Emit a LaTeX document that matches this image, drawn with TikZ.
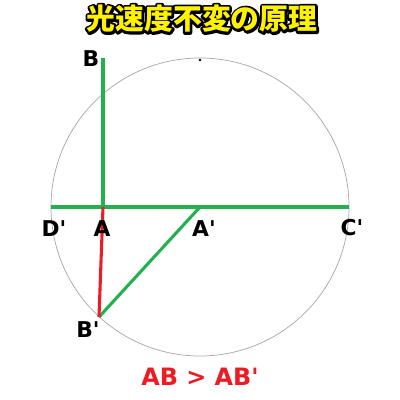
\documentclass[tikz,border=0pt]{standalone}
\usepackage{fontspec}
\setsansfont{DejaVu Sans}
\newfontfamily\jpfont{Noto Sans CJK JP}
\usetikzlibrary{positioning,calc}
\definecolor{lgreen}{RGB}{34,177,76}
\definecolor{lred}{RGB}{237,28,36}
\definecolor{tyellow}{RGB}{255,242,0}
\newcommand{\strokedtext}[1]{\special{pdf:literal direct 1 Tr 3.4 w 1 j 0 G}#1\special{pdf:literal direct 0 Tr}}
\newcommand{\pr}{\textquotesingle}
\begin{document}
\begin{tikzpicture}[x=0.025cm,y=-0.025cm,
    lbl/.style={font=\sffamily\bfseries\fontsize{15.5}{15.5}\selectfont, inner sep=0pt},
    ray/.style={lgreen, line width=2.2pt},
    titletxt/.style={font=\jpfont\bfseries\fontsize{20.5}{20.5}\selectfont, inner sep=0pt}]
    \useasboundingbox (0,0) rectangle (400,400);
    % points
    \coordinate (Ap) at (200,207);
    \coordinate (A) at (103,207);
    \coordinate (B) at (103,58);
    \coordinate (Bp) at (99,317);
    \coordinate (Dp) at (51,207);
    \coordinate (Cp) at (349,207);
    \coordinate (top) at (200,60);
    %
    \node[titletxt] (title_outline) at (202,19) {\strokedtext{光速度不変の原理}};
    \node[titletxt, text=tyellow] (title) at (202,19) {光速度不変の原理};
    %
    \draw[gray!70, line width=0.5pt] (Ap) circle[radius=149];
    \fill (top) circle[radius=1.3];
    %
    \draw[ray] (Dp) -- (Cp);
    \draw[ray] (A) -- (B);
    \draw[ray] (Ap) -- (Bp);
    \draw[lred, line width=2.2pt] (A) -- (Bp);
    %
    \node[lbl] (lb) at (91,59) {B};
    \node[lbl] (ld) at (54,229) {D\pr};
    \node[lbl] (la) at (102,229) {A};
    \node[lbl] (lap) at (204,229) {A\pr};
    \node[lbl] (lcp) at (352,228) {C\pr};
    \node[lbl] (lbp) at (88,330) {B\pr};
    \node[lbl, text=lred, font=\sffamily\bfseries\fontsize{17}{17}\selectfont] (cmp) at (200,377) {AB > AB\pr};
\end{tikzpicture}
\end{document}
